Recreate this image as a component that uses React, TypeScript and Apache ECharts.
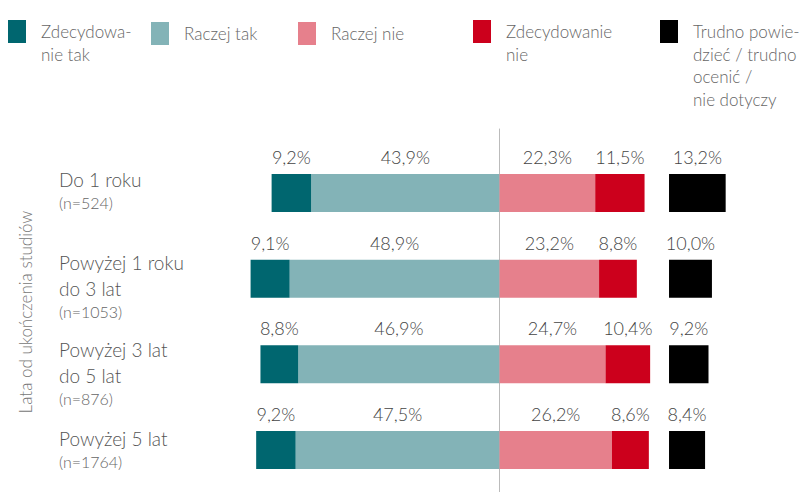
import React, { useEffect, useRef } from "react";
import * as echarts from "echarts";

const categories = ["Do 1 roku", "Powyżej 1 roku\ndo 3 lat", "Powyżej 3 lat\ndo 5 lat", "Powyżej 5 lat"];
const sampleSizes = [524, 1053, 876, 1764];
const zdecydowanieTak = [9.2, 9.1, 8.8, 9.2];
const raczejTak = [43.9, 48.9, 46.9, 47.5];
const raczejNie = [22.3, 23.2, 24.7, 26.2];
const zdecydowanieNie = [11.5, 8.8, 10.4, 8.6];
const trudno = [13.2, 10.0, 9.2, 8.4];

const NAMES = ["Zdecydowanie tak", "Raczej tak", "Raczej nie", "Zdecydowanie nie", "Trudno powiedzieć / trudno ocenić / nie dotyczy"];
const LEGEND_LINES = [
  ["Zdecydowa-", "nie tak"],
  ["Raczej tak"],
  ["Raczej nie"],
  ["Zdecydowanie", "nie"],
  ["Trudno powie-", "dzieć / trudno", "ocenić /", "nie dotyczy"],
];
const COLORS = ["#00666F", "#83B3B7", "#E6808C", "#CC001C", "#000000"];

const FONT = "Lato, 'Open Sans', sans-serif";
const BLACK_OFFSET = 39.5; // where the separate black bars start on the value axis
const labelShift = [-4, 7, 8, -1];
const legendLeft = [8, 151, 298, 473, 660];
const legendMarkerTop = [20, 22, 22, 20, 20];

const fmt = (v: number) => Math.abs(v).toFixed(1).replace(".", ",") + "%";

export default function App() {
  const ref = useRef<HTMLDivElement>(null);
  useEffect(() => {
    const chart = echarts.init(ref.current!, undefined, { renderer: "svg" });
    const barLabel = {
      show: true,
      position: "top",
      distance: 8,
      fontSize: 18,
      fontFamily: FONT,
      fontWeight: 300,
      color: "#444",
      formatter: (p: any) => fmt(p.value),
    };
    const LH = 22.5;
    const PB = 5;
    const legends = NAMES.map((name, i) => {
      const lines = LEGEND_LINES[i];
      const n = lines.length;
      // prepend empty lines so the first real line sits level with the marker
      const text = new Array(n - 1).fill("").concat(lines).join("\n");
      const textTop = 11.5 - ((2 * n - 1) * LH + PB) / 2;
      const boundTop = Math.min(0, textTop);
      return {
        data: [name],
        left: legendLeft[i],
        top: legendMarkerTop[i] + boundTop,
        padding: 0,
        itemGap: 0,
        itemWidth: 18,
        itemHeight: 23,
        icon: "rect",
        selectedMode: false,
        formatter: () => text,
        textStyle: {
          fontSize: 17,
          lineHeight: LH,
          color: "#666",
          fontFamily: FONT,
          fontWeight: 300,
          padding: [0, 0, PB, 10],
        },
      };
    });
    const option: any = {
      animation: false,
      legend: legends,
      grid: [
        { left: 242, width: 515, top: 150.2, bottom: -0.8, containLabel: false, outerBoundsMode: "none" },
        { left: 242, width: 515, top: 129, bottom: 0, containLabel: false, outerBoundsMode: "none" },
      ],
      xAxis: [
        { type: "value", gridIndex: 0, min: -60, max: 60, show: false, splitLine: { show: false } },
        { type: "value", gridIndex: 1, min: -60, max: 60, show: false, splitLine: { show: false } },
      ],
      yAxis: [
        {
          type: "category",
          gridIndex: 0,
          inverse: true,
          data: categories.map((c, i) => ({
            value: c,
            textStyle: {
              align: "left",
              verticalAlign: "middle",
              padding: labelShift[i] >= 0 ? [labelShift[i] * 2, 0, 0, 0] : [0, 0, -labelShift[i] * 2, 0],
            },
          })),
          axisLine: { show: false, onZero: false },
          axisTick: { show: false },
          splitLine: { show: false },
          axisLabel: {
            align: "left",
            margin: 183,
            hideOverlap: false,
            formatter: (value: string, index: number) =>
              value.split("\n").map((l) => "{a|" + l + "}").join("\n") + "\n{b|(n=" + sampleSizes[index] + ")}",
            rich: {
              a: { fontSize: 19, lineHeight: 26, color: "#555", fontFamily: FONT, fontWeight: 300, align: "left" },
              b: { fontSize: 16, lineHeight: 20, color: "#666", fontFamily: FONT, fontWeight: 300, align: "left" },
            },
          },
          name: "Lata od ukończenia studiów",
          nameLocation: "middle",
          nameRotate: 90,
          nameGap: 208,
          nameMoveOverlap: false,
          nameTextStyle: { fontSize: 17, color: "#777", fontFamily: FONT, fontWeight: 300, padding: [0, 0, 0, 19] },
        },
        {
          type: "value",
          gridIndex: 1,
          min: 0,
          max: 1,
          axisLine: { show: true, onZero: true, lineStyle: { color: "#bbbbbb", width: 1 } },
          axisTick: { show: false },
          axisLabel: { show: false },
          splitLine: { show: false },
        },
      ],
      series: [
        {
          name: NAMES[1], type: "bar", stack: "a", barWidth: 38, barGap: "-100%",
          data: raczejTak.map((v) => -v), itemStyle: { color: COLORS[1] }, label: barLabel,
        },
        {
          name: NAMES[0], type: "bar", stack: "a", barWidth: 38, barGap: "-100%",
          data: zdecydowanieTak.map((v) => -v), itemStyle: { color: COLORS[0] }, label: barLabel,
        },
        {
          name: NAMES[2], type: "bar", stack: "a", barWidth: 38, barGap: "-100%",
          data: raczejNie, itemStyle: { color: COLORS[2] }, label: barLabel,
        },
        {
          name: NAMES[3], type: "bar", stack: "a", barWidth: 38, barGap: "-100%",
          data: zdecydowanieNie, itemStyle: { color: COLORS[3] }, label: barLabel,
        },
        {
          name: "offset", type: "bar", stack: "b", barWidth: 38, barGap: "-100%", silent: true,
          data: trudno.map(() => BLACK_OFFSET), itemStyle: { color: "rgba(0,0,0,0)" }, label: { show: false },
        },
        {
          name: NAMES[4], type: "bar", stack: "b", barWidth: 38, barGap: "-100%",
          data: trudno, itemStyle: { color: COLORS[4] }, label: barLabel,
        },
      ],
    };
    chart.setOption(option);
    return () => chart.dispose();
  }, []);
  return <div ref={ref} style={{ position: "absolute", left: 0, top: 0, width: 801, height: 492 }} />;
}
